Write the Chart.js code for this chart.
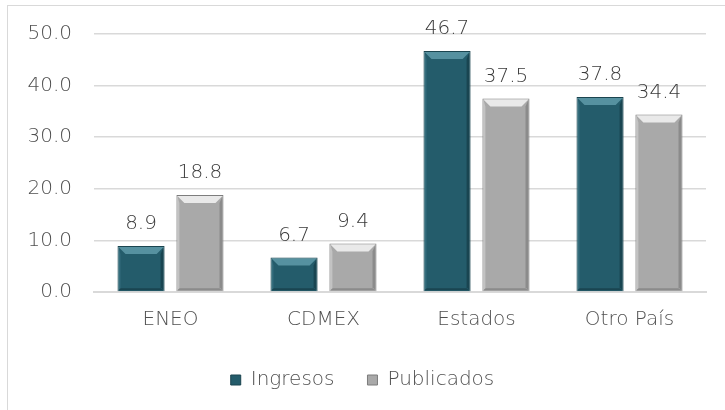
<!DOCTYPE html>
<html>
<head>
<meta charset="utf-8">
<script src="https://cdn.jsdelivr.net/npm/chart.js@4"></script>
<style>
  body { margin: 0; background: #fff; }
  #wrap { position: relative; width: 725px; height: 410px; overflow: hidden; }
  #frame { position: absolute; left: 7px; top: 5px; width: 730px; height: 420px; border: 1px solid #d9d9d9; box-sizing: border-box; }
  canvas { position: absolute; left: 0; top: 0; }
</style>
</head>
<body>
<div id="wrap">
  <div id="frame"></div>
  <canvas id="chart" width="725" height="410"></canvas>
</div>
<script>
const categories = ['ENEO', 'CDMEX', 'Estados', 'Otro País'];
const ingresos = [8.9, 6.7, 46.7, 37.8];
const publicados = [18.8, 9.4, 37.5, 34.4];
const yTicks = [0, 10, 20, 30, 40, 50];

const FONT = "'DejaVu Sans', sans-serif";
const TEXT = '#505050';

// bevel edges + value labels on top of bars
const bevelAndLabels = {
    id: 'bevelAndLabels',
    afterDatasetsDraw(chart) {
        const c = chart.ctx;
        chart.data.datasets.forEach((ds, i) => {
            const meta = chart.getDatasetMeta(i);
            meta.data.forEach((bar, j) => {
                const l = bar.x - bar.width / 2, r = bar.x + bar.width / 2;
                const t = bar.y, b = bar.base;
                const e = 8;
                c.save();
                // top bevel
                c.fillStyle = ds.bevelLight;
                c.beginPath();
                c.moveTo(l + 1, t + 1); c.lineTo(r - 1, t + 1); c.lineTo(r - e, t + e); c.lineTo(l + e, t + e);
                c.closePath(); c.fill();
                // left edge
                c.fillStyle = ds.bevelSide;
                c.beginPath();
                c.moveTo(l + 1, t + 1); c.lineTo(l + 3, t + e); c.lineTo(l + 3, b - 3); c.lineTo(l + 1, b - 1);
                c.closePath(); c.fill();
                // right edge
                c.fillStyle = ds.bevelDark;
                c.beginPath();
                c.moveTo(r - 1, t + 1); c.lineTo(r - 1, b - 1); c.lineTo(r - 4, b - 4); c.lineTo(r - 4, t + e);
                c.closePath(); c.fill();
                // bottom edge
                c.beginPath();
                c.moveTo(l + 1, b - 1); c.lineTo(r - 1, b - 1); c.lineTo(r - 4, b - 3); c.lineTo(l + 3, b - 3);
                c.closePath(); c.fill();
                // value label
                c.fillStyle = '#3a3a3a';
                c.font = '300 20px ' + FONT;
                c.textAlign = 'center';
                c.textBaseline = 'middle';
                c.fillText(ds.data[j].toFixed(1), bar.x, t - 22);
                c.restore();
            });
        });
    }
};

new Chart(document.getElementById('chart').getContext('2d'), {
    type: 'bar',
    data: {
        labels: categories,
        datasets: [{
            label: 'Ingresos',
            data: ingresos,
            backgroundColor: '#245c6b',
            borderColor: '#1b4550',
            borderWidth: 1,
            bevelLight: 'rgba(120,180,195,0.6)',
            bevelSide: 'rgba(90,150,165,0.3)',
            bevelDark: 'rgba(10,35,42,0.4)'
        }, {
            label: 'Publicados',
            data: publicados,
            backgroundColor: '#a9a9a9',
            borderColor: '#7d7d7d',
            borderWidth: 1,
            bevelLight: 'rgba(255,255,255,0.75)',
            bevelSide: 'rgba(235,235,235,0.4)',
            bevelDark: 'rgba(70,70,70,0.3)'
        }]
    },
    options: {
        responsive: false,
        animation: false,
        categoryPercentage: 0.77,
        barPercentage: 0.8,
        layout: { padding: { left: 19, right: 19, top: 25, bottom: 10 } },
        plugins: {
            legend: {
                position: 'bottom',
                labels: {
                    color: TEXT,
                    font: { size: 20, family: FONT, weight: 300 },
                    boxWidth: 10,
                    boxHeight: 10,
                    padding: 33
                }
            },
            tooltip: { enabled: false }
        },
        scales: {
            x: {
                grid: { display: false },
                border: { color: '#d9d9d9', width: 2 },
                ticks: { color: TEXT, font: { size: 20, family: FONT, weight: 300 }, padding: 8 },
                afterFit(axis) { axis.height = 45; }
            },
            y: {
                min: 0,
                max: 50,
                afterBuildTicks(axis) { axis.ticks = yTicks.map(v => ({ value: v })); },
                grid: { color: '#d9d9d9', lineWidth: 1.5, drawTicks: false },
                border: { display: false },
                ticks: {
                    color: TEXT,
                    font: { size: 20, family: FONT, weight: 300 },
                    padding: 22,
                    callback: v => v.toFixed(1)
                },
                afterFit(axis) { axis.width = 75; }
            }
        }
    },
    plugins: [bevelAndLabels]
});
</script>
</body>
</html>
